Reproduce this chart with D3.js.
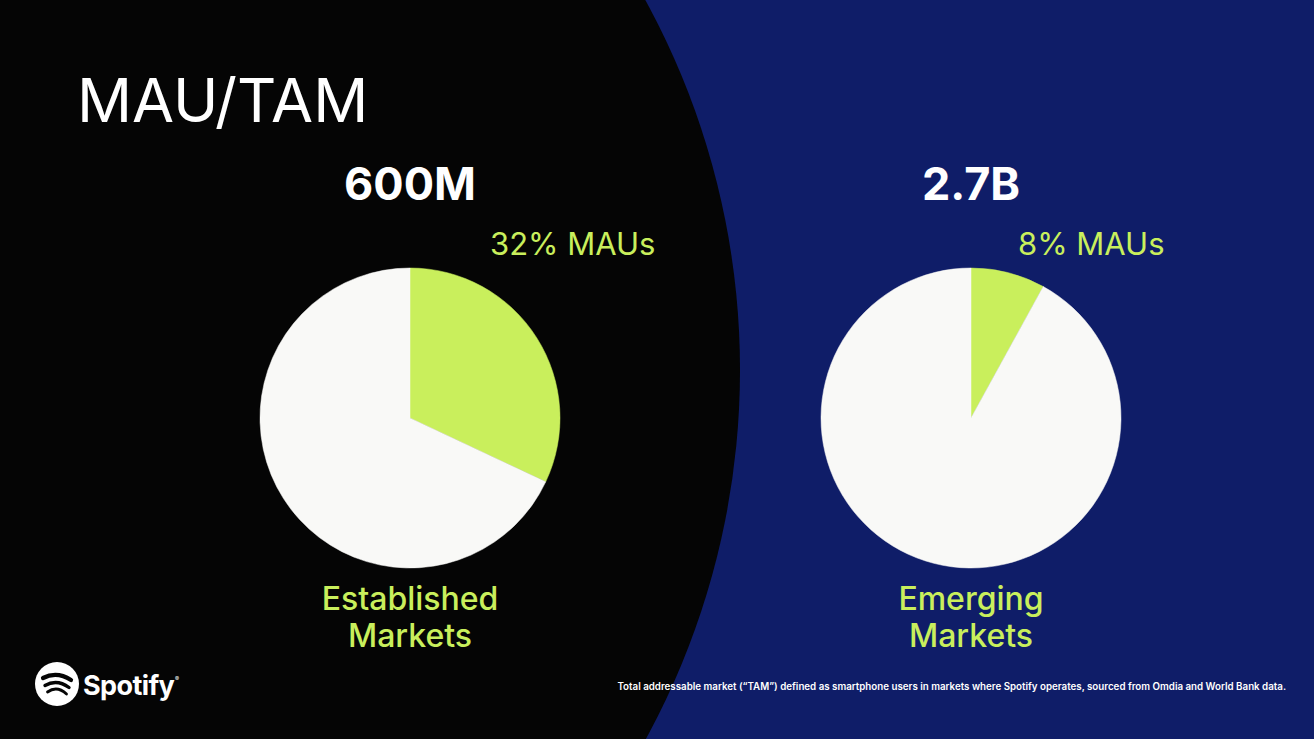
<!DOCTYPE html>
<html>
<head>
<meta charset="utf-8">
<script src="https://cdn.jsdelivr.net/npm/d3@7"></script>
<style>
  html, body { margin: 0; padding: 0; background: #0f1d68; overflow: hidden; }
  svg { display: block; }
  text { font-family: "Inter", "Noto Sans", sans-serif; }
</style>
</head>
<body>
<div id="slide"></div>
<script>
var markets = ['Established Markets', 'Emerging Markets']
var labelLines = [['Established', 'Markets'], ['Emerging', 'Markets']]
var tamLabels = ['600M', '2.7B']
var mauShare = [32, 8]
var title = 'MAU/TAM'
var footnote = 'Total addressable market (\u201cTAM\u201d) defined as smartphone users in markets where Spotify operates, sourced from Omdia and World Bank data.'

var cfg = {
  w: 1314,
  h: 739,
  radius: 150,
  cy: 418,
  blue: '#0f1d68',
  black: '#050505',
  green: '#c9ef5c',
  white: '#f9f9f7'
}

var svg = d3.select('#slide').append('svg')
  .attr('width', cfg.w)
  .attr('height', cfg.h)

svg.append('rect')
  .attr('width', cfg.w).attr('height', cfg.h)
  .style('fill', cfg.blue)

// big black half disc on the left
svg.append('circle')
  .attr('cx', -30).attr('cy', 370).attr('r', 770)
  .style('fill', cfg.black)

svg.append('text')
  .attr('x', 77).attr('y', 122)
  .style('font-size', '61px')
  .style('font-weight', 400)
  .style('fill', '#ffffff')
  .text(title)

var x = d3.scalePoint()
  .domain(markets)
  .range([410, 971])

var pie = d3.pie().sort(null).value(d => d)
var arc = d3.arc().innerRadius(0).outerRadius(cfg.radius)

var group = svg.selectAll('.market')
  .data(markets)
  .enter().append('g')
  .attr('class', 'market')
  .attr('transform', d => 'translate(' + x(d) + ',' + cfg.cy + ')')

group.selectAll('path')
  .data((d, i) => pie([mauShare[i], 100 - mauShare[i]]))
  .enter().append('path')
  .attr('d', arc)
  .style('fill', (d, i) => i == 0 ? cfg.green : cfg.white)
  .style('stroke', (d, i) => i == 0 ? cfg.green : cfg.white)
  .style('stroke-width', 0.5)

group.append('text')
  .attr('y', 200 - cfg.cy)
  .attr('text-anchor', 'middle')
  .style('font-size', '45px')
  .style('font-weight', 700)
  .style('fill', '#ffffff')
  .text((d, i) => tamLabels[i])

group.append('text')
  .attr('x', (d, i) => i == 0 ? 80 : 47)
  .attr('y', 255 - cfg.cy)
  .style('font-size', '31px')
  .style('font-weight', 400)
  .style('fill', cfg.green)
  .text((d, i) => mauShare[i] + '% MAUs')

group.each(function(d, i) {
  d3.select(this).selectAll('.lbl')
    .data(labelLines[i])
    .enter().append('text')
    .attr('class', 'lbl')
    .attr('text-anchor', 'middle')
    .attr('y', (t, j) => 610 - cfg.cy + j * 37)
    .style('font-size', '32px')
    .style('font-weight', 500)
    .style('fill', cfg.green)
    .text(t => t)
})

// footnote
svg.append('text')
  .attr('x', 1286).attr('y', 690)
  .attr('text-anchor', 'end')
  .style('font-size', '9.75px')
  .style('font-weight', 600)
  .style('fill', '#ffffff')
  .text(footnote)

// spotify logo
var logo = svg.append('g').attr('transform', 'translate(57,684)')
logo.append('circle').attr('r', 22).style('fill', '#ffffff')
var bars = [{y: -6, w: 28, s: 4.2}, {y: 1.5, w: 24, s: 3.4}, {y: 8, w: 19, s: 2.8}]
logo.selectAll('.bar')
  .data(bars)
  .enter().append('path')
  .attr('class', 'bar')
  .attr('d', b => 'M' + (-b.w / 2) + ',' + b.y + ' Q0,' + (b.y - 7) + ' ' + (b.w / 2) + ',' + (b.y + 2))
  .style('fill', 'none')
  .style('stroke', cfg.black)
  .style('stroke-width', b => b.s)
  .style('stroke-linecap', 'round')

svg.append('text')
  .attr('x', 83).attr('y', 695)
  .style('font-size', '27px')
  .style('font-weight', 700)
  .style('letter-spacing', '-0.6px')
  .style('fill', '#ffffff')
  .text('Spotify')

svg.append('text')
  .attr('x', 175).attr('y', 681)
  .style('font-size', '6px')
  .style('fill', '#ffffff')
  .text('\u00ae')
</script>
</body>
</html>
